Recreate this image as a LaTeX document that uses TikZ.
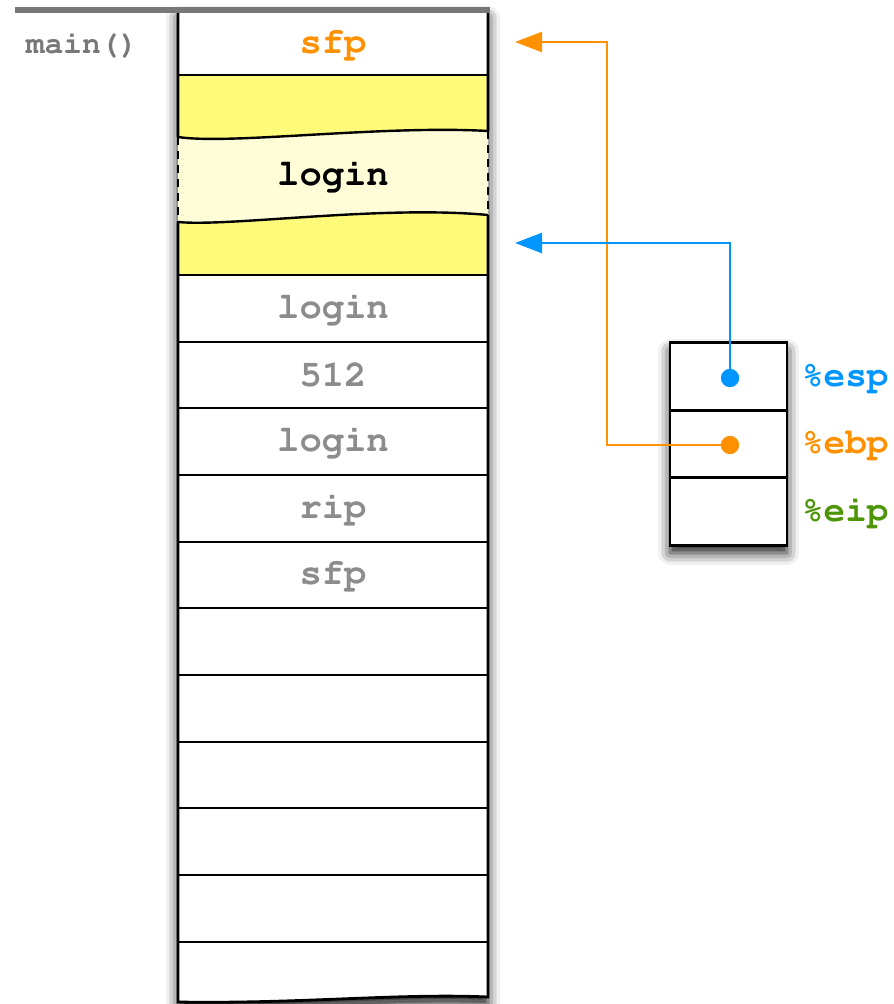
\documentclass[tikz,border=0pt]{standalone}
\usepackage[T1]{fontenc}
\usepackage{courier}
\usetikzlibrary{shadows.blur,arrows.meta}
\definecolor{hiyellow}{RGB}{255,250,122}
\definecolor{paleyellow}{RGB}{255,252,216}
\definecolor{regorange}{RGB}{255,145,0}
\definecolor{regblue}{RGB}{0,150,255}
\definecolor{reggreen}{RGB}{78,150,8}
\definecolor{slotgray}{RGB}{140,140,140}
\definecolor{framegray}{RGB}{120,120,120}

\tikzset{
  slot/.style={font=\ttfamily\bfseries\fontsize{18.6}{20}\selectfont, text=slotgray},
  reg/.style={draw, line width=1.3pt, minimum width=58.5pt, minimum height=33.75pt, inner sep=0pt},
  regname/.style={font=\ttfamily\bfseries\fontsize{18}{20}\selectfont, anchor=west},
  dot/.style={circle, inner sep=0pt, minimum size=9pt},
  pointer/.style={line width=1.3pt, -{Triangle[length=13.5pt,width=10pt]}},
  dropshade/.style={blur shadow={shadow xshift=0pt, shadow yshift=-4pt, shadow blur radius=6pt, shadow opacity=90}},
}

\begin{document}
\begin{tikzpicture}[x=0.5pt,y=-0.5pt]
\useasboundingbox (0,0) rectangle (893,1004);

% stack body
\fill[white, dropshade]
  (178,10) -- (178,1002) .. controls (300,1004) and (400,993) .. (488,997) -- (488,10) -- cycle;

% login buffer
\fill[hiyellow] (178,75) -- (488,75) -- (488,131) .. controls (380,125) and (230,145) .. (178,137) -- cycle;
\fill[paleyellow] (178,137) .. controls (230,145) and (380,125) .. (488,131)
  -- (488,215) .. controls (380,205) and (230,227) .. (178,222) -- cycle;
\fill[hiyellow] (178,222) .. controls (230,227) and (380,205) .. (488,215) -- (488,275) -- (178,275) -- cycle;
\draw[line width=1.2pt] (178,137) .. controls (230,145) and (380,125) .. (488,131);
\draw[line width=1.2pt] (178,222) .. controls (230,227) and (380,205) .. (488,215);
\draw[line width=1.1pt, dash pattern=on 4pt off 3pt] (178,137) -- (178,222) (488,131) -- (488,215);

% stack frame
\draw[line width=1.4pt] (178,10) -- (178,137) (178,222) -- (178,1002)
  .. controls (300,1004) and (400,993) .. (488,997) -- (488,215) (488,131) -- (488,10);
\foreach \y in {75,275,342,408,475,542,608,675,742,808,875,942}
  \draw[line width=1.4pt] (178,\y) -- (488,\y);
\draw[line width=3pt, framegray] (15,10) -- (490,10);

% slot labels
\node[font=\ttfamily\bfseries\fontsize{15.6}{18}\selectfont, text=framegray] (mainlbl) at (82,45) {main()};
\node[slot, text=regorange] (sfptop) at (333,44) {sfp};
\node[slot, text=black] (loginbuf) at (333,176) {login};
\node[slot] (arg2) at (333,309) {login};
\node[slot] (arg1) at (333,375) {512};
\node[slot] (arg0) at (333,442) {login};
\node[slot] (rip) at (333,509) {rip};
\node[slot] (sfp) at (333,575) {sfp};

% registers
\fill[white, dropshade] (670,343) rectangle (787,545);
\node[reg] (esp) at (728.5,376.5) {};
\node[reg] (ebp) at (728.5,444) {};
\node[reg] (eip) at (728.5,511.5) {};
\node[regname, text=regblue] (esplbl) at (795,378) {\%esp};
\node[regname, text=regorange] (ebplbl) at (795,445) {\%ebp};
\node[regname, text=reggreen] (eiplbl) at (795,512) {\%eip};

% pointers
\node[dot, fill=regblue] (espdot) at (730,378) {};
\node[dot, fill=regorange] (ebpdot) at (730,445) {};
\coordinate (sfptip) at (515,42);
\coordinate (logintip) at (515,243);
\coordinate (ebpbend) at (607,42);
\draw[pointer, regorange] (ebpdot.center) -| (ebpbend) -- (sfptip);
\draw[pointer, regblue] (espdot.center) |- (logintip);
\node[dot, fill=regblue] at (espdot) {};
\node[dot, fill=regorange] at (ebpdot) {};
\end{tikzpicture}
\end{document}
